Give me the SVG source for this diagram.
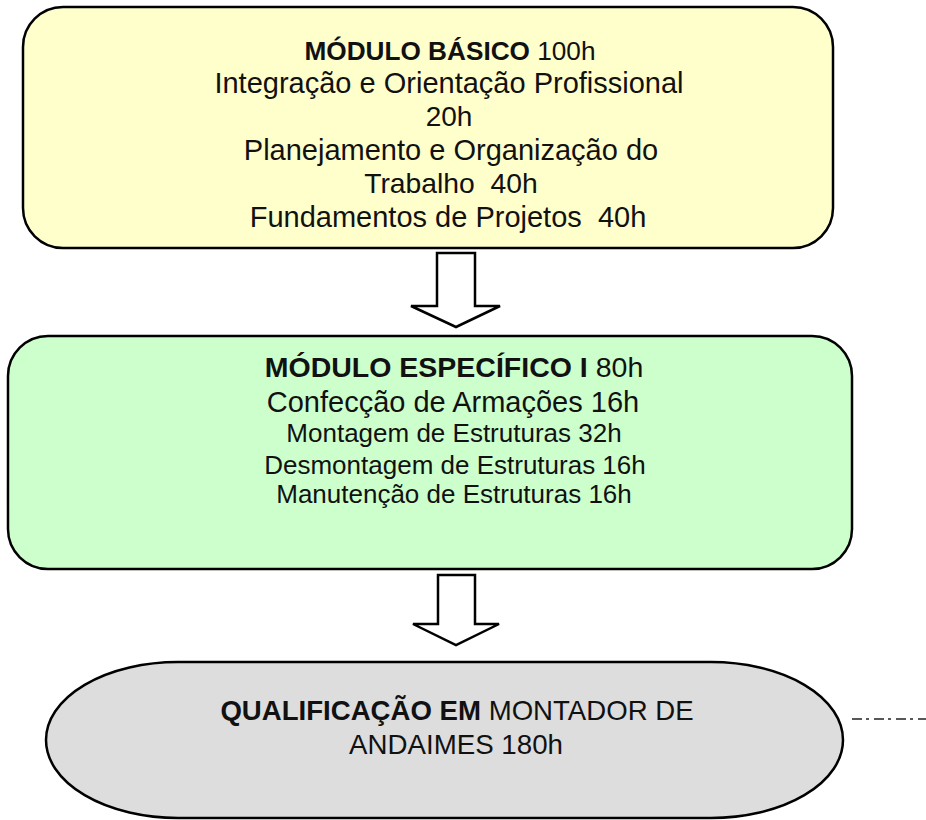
<svg xmlns="http://www.w3.org/2000/svg" width="926" height="820" viewBox="0 0 926 820">
<style>
.box{stroke:#000;stroke-width:2.5}
.t{font-family:"Liberation Sans",Arial,sans-serif;fill:#111;text-anchor:middle}
.b{font-weight:bold}
.arrow{fill:#fff;stroke:#000;stroke-width:2.5;stroke-linejoin:miter}
</style>
<rect width="926" height="820" fill="#fff"/>
<g id="modulo-basico">
<rect class="box" x="23" y="7" width="810" height="241" rx="40" ry="40" fill="#FFFFCC"/>
<text class="t" xml:space="preserve" x="450" y="60" font-size="26.2"><tspan class="b">MÓDULO BÁSICO</tspan> 100h</text>
<text class="t" x="449" y="93" font-size="29">Integração e Orientação Profissional</text>
<text class="t" x="449" y="126" font-size="28">20h</text>
<text class="t" x="451" y="160" font-size="29">Planejamento e Organização do</text>
<text class="t" xml:space="preserve" x="451" y="193" font-size="28.3">Trabalho  40h</text>
<text class="t" xml:space="preserve" x="448" y="227" font-size="29">Fundamentos de Projetos  40h</text>
</g>
<g id="modulo-especifico">
<rect class="box" x="8" y="336" width="844" height="233" rx="40" ry="40" fill="#CCFFCC"/>
<text class="t" xml:space="preserve" x="454" y="377" font-size="28.5"><tspan class="b">MÓDULO ESPECÍFICO I</tspan> 80h</text>
<text class="t" x="453" y="412" font-size="29">Confecção de Armações 16h</text>
<text class="t" x="454" y="442" font-size="26">Montagem de Estruturas 32h</text>
<text class="t" x="455" y="474" font-size="26">Desmontagem de Estruturas 16h</text>
<text class="t" x="454" y="503" font-size="26">Manutenção de Estruturas 16h</text>
</g>
<g id="qualificacao">
<rect class="box" x="46" y="662" width="797" height="156" rx="132" ry="78" fill="#DDDDDD"/>
<text class="t" xml:space="preserve" x="457" y="720" font-size="27.6"><tspan class="b">QUALIFICAÇÃO EM</tspan> MONTADOR DE</text>
<text class="t" x="456" y="754" font-size="27.7">ANDAIMES 180h</text>
</g>
<g id="connectors">
<path class="arrow" d="M437 253 H475 V306 H500 L456 327 L411 306 H437 Z"/>
<path class="arrow" d="M438 575 H475 V624 H499 L456 645 L413 624 H438 Z"/>
<line x1="852" y1="719" x2="926" y2="719" stroke="#222" stroke-width="1.5" stroke-dasharray="10 4 3 5"/>
</g>
</svg>
